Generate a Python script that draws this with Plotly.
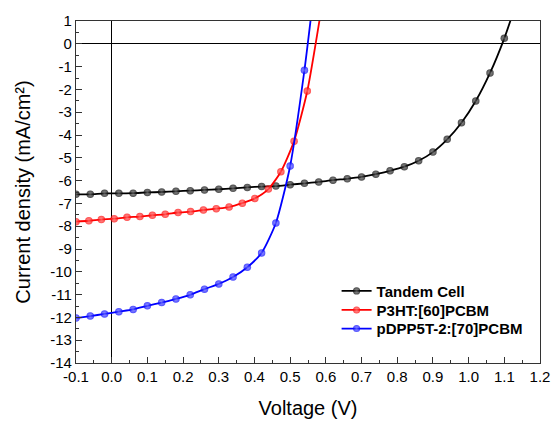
import plotly.graph_objects as go

# ---------------- data ----------------
tandem_v = [-0.10, -0.06, -0.02, 0.02, 0.06, 0.10, 0.14, 0.18, 0.22, 0.26, 0.30,
            0.34, 0.38, 0.42, 0.46, 0.50, 0.54, 0.58, 0.62, 0.66, 0.70, 0.74,
            0.78, 0.82, 0.86, 0.90, 0.94, 0.98, 1.02, 1.06, 1.10, 1.12]
tandem_j = [-6.60, -6.60, -6.56, -6.56, -6.55, -6.52, -6.50, -6.47, -6.44, -6.41, -6.38,
            -6.34, -6.30, -6.26, -6.24, -6.18, -6.12, -6.06, -5.98, -5.92, -5.84, -5.72,
            -5.57, -5.39, -5.13, -4.75, -4.19, -3.46, -2.51, -1.28, 0.24, 1.15]

p3ht_v = [-0.100, -0.064, -0.029, 0.007, 0.043, 0.079, 0.114, 0.150, 0.186, 0.221,
          0.257, 0.293, 0.329, 0.366, 0.401, 0.439, 0.474, 0.511, 0.548, 0.585]
p3ht_j = [-7.80, -7.76, -7.71, -7.67, -7.61, -7.58, -7.52, -7.48, -7.40, -7.36,
          -7.29, -7.23, -7.16, -6.99, -6.78, -6.37, -5.61, -4.27, -2.07, 1.30]

pdpp_v = [-0.10, -0.06, -0.02, 0.02, 0.06, 0.10, 0.14, 0.18, 0.22, 0.26, 0.30,
          0.34, 0.38, 0.42, 0.46, 0.50, 0.54, 0.56]
pdpp_j = [-12.03, -11.94, -11.85, -11.75, -11.65, -11.49, -11.35, -11.19, -11.01,
          -10.76, -10.53, -10.23, -9.80, -9.17, -7.86, -5.36, -1.16, 1.40]

series_names = ["Tandem Cell", "P3HT:[60]PCBM", "pDPP5T-2:[70]PCBM"]

x_tick_vals = [-0.1, 0.0, 0.1, 0.2, 0.3, 0.4, 0.5, 0.6, 0.7, 0.8, 0.9, 1.0, 1.1, 1.2]
x_tick_labels = ["-0.1", "0.0", "0.1", "0.2", "0.3", "0.4", "0.5", "0.6", "0.7",
                 "0.8", "0.9", "1.0", "1.1", "1.2"]
y_tick_vals = [1, 0, -1, -2, -3, -4, -5, -6, -7, -8, -9, -10, -11, -12, -13, -14]
y_tick_labels = ["1", "0", "-1", "-2", "-3", "-4", "-5", "-6", "-7", "-8", "-9",
                 "-10", "-11", "-12", "-13", "-14"]

# ---------------- figure ----------------
FONT = "Liberation Sans, Arial, sans-serif"
W, H = 554, 421
L, R, T, B = 76, 14, 21, 58
PW, PH = W - L - R, H - T - B

fig = go.Figure()

styles = [
    (tandem_v, tandem_j, "#000000", "#707070"),
    (p3ht_v, p3ht_j, "#ff0000", "#ff7a7a"),
    (pdpp_v, pdpp_j, "#0000ff", "#7a7aff"),
]
legend_ids = ["legend", "legend2", "legend3"]
for (xv, yv, col, hi), name, lg in zip(styles, series_names, legend_ids):
    sizes = [7.5] * (len(xv) - 1) + [0]   # last point only extends the line
    fig.add_trace(go.Scatter(
        x=xv, y=yv, name=name, mode="lines+markers", legend=lg,
        line=dict(color=col, width=1.8, shape="spline", smoothing=0.6),
        marker=dict(color=col, size=sizes, line=dict(width=0),
                    gradient=dict(type="radial", color=hi)),
    ))

axis_common = dict(
    showgrid=False, showline=True, mirror=True, linecolor="#333333", linewidth=1.3,
    ticks="inside", ticklen=6, tickwidth=1, tickcolor="#333333", automargin=False,
    tickfont=dict(family=FONT, size=15, color="#000000"),
    zeroline=True, zerolinecolor="#000000", zerolinewidth=1,
)

def legend_at(px_x, px_top):
    return dict(x=(px_x - L) / PW, y=(T + PH - px_top) / PH, xanchor="left", yanchor="top",
                bgcolor="rgba(0,0,0,0)", borderwidth=0,
                font=dict(family=FONT, size=15, color="#000000", weight="bold"))

row_centers = [291.7, 310.7, 329.3]
fig.update_layout(
    width=W, height=H,
    margin=dict(l=L, r=R, t=T, b=B),
    paper_bgcolor="white", plot_bgcolor="white",
    xaxis=dict(range=[-0.1, 1.2], tickvals=x_tick_vals, ticktext=x_tick_labels,
               minor=dict(dtick=0.05, tick0=0, ticks="inside", ticklen=3,
                          tickcolor="#333333", showgrid=False),
               title=dict(text="Voltage (V)", font=dict(family=FONT, size=20, color="#000000"),
                          standoff=16),
               **axis_common),
    yaxis=dict(range=[-14, 1], tickvals=y_tick_vals, ticktext=y_tick_labels,
               minor=dict(dtick=0.5, tick0=0, ticks="inside", ticklen=3,
                          tickcolor="#333333", showgrid=False),
               title=dict(text="Current density (mA/cm²)",
                          font=dict(family=FONT, size=20, color="#000000"), standoff=14),
               **axis_common),
    legend=legend_at(336.6, row_centers[0] - 17),
    legend2=legend_at(336.6, row_centers[1] - 17),
    legend3=legend_at(336.6, row_centers[2] - 17),
    showlegend=True,
)

fig.write_html("out.html")
